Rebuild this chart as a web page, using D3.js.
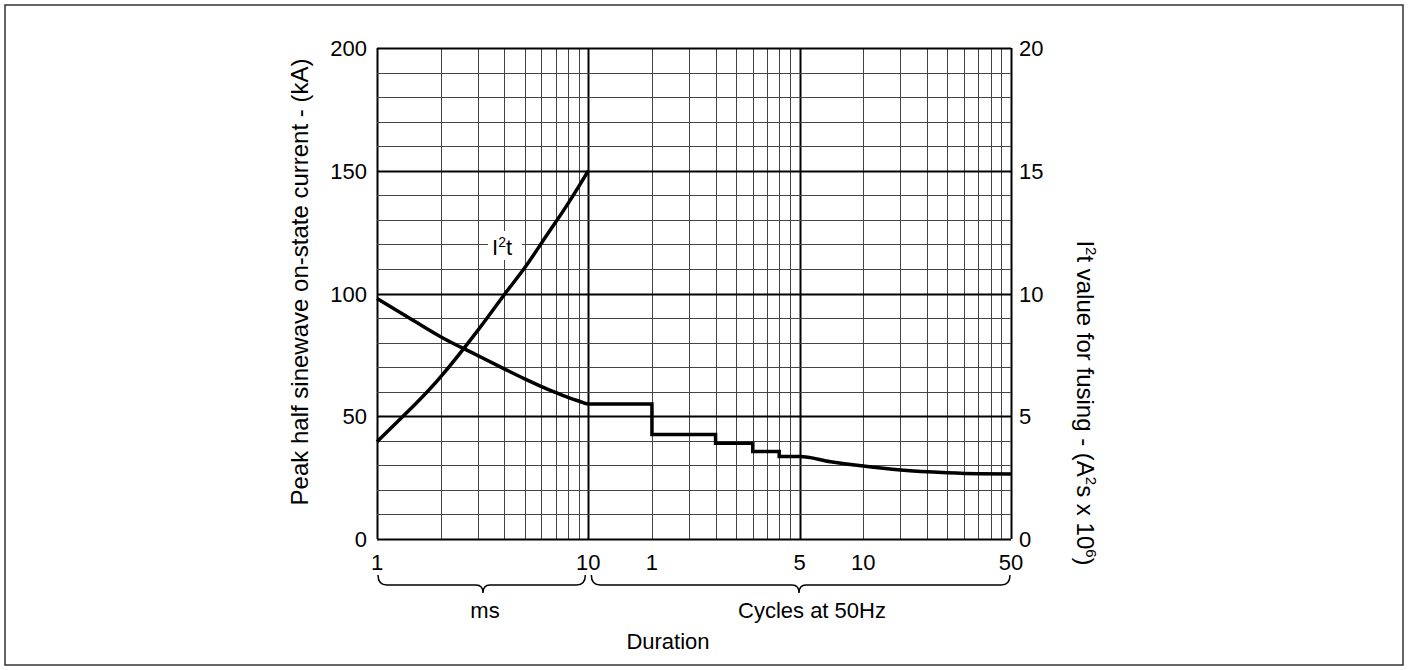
<html>
<meta charset="utf-8">
<body style="margin:0;background:#fff">
<script src="https://d3js.org/d3.v7.min.js"></script>
<div id="my_dataviz"></div>
<script>

// duration in ms (50Hz: 1 cycle = 20 ms)
var currentMs   = [1, 1.5, 2, 3, 4, 5, 6, 7, 8, 9, 10, 20, 20, 40, 40, 60, 60, 80, 80, 100, 140, 200, 300, 500, 700, 1000]
var currentKA   = [98, 88.8, 82.4, 74.7, 69.3, 65.2, 62.1, 59.7, 57.7, 56.2, 55, 55, 42.6, 42.6, 39, 39, 35.6, 35.6, 33.6, 33.6, 31.5, 29.7, 28.1, 27, 26.6, 26.5]
var i2tMs       = [1, 1.5, 2, 3, 4, 5, 6, 7, 8, 9, 10]
var i2tValue    = [3.96, 5.45, 6.6, 8.5, 9.95, 11.05, 12.05, 12.9, 13.65, 14.35, 15.0]
var msTicks     = [1, 10]
var cycleTicks  = [1, 5, 10, 50]
var leftTicks   = [0, 50, 100, 150, 200]
var rightTicks  = [0, 5, 10, 15, 20]

var W = 1408, H = 670
var svg = d3.select("#my_dataviz").append("svg")
    .attr("width", W).attr("height", H)
    .style("font-family", "'Liberation Sans', Arial, sans-serif")

// outer frame
svg.append("rect")
  .attr("x", 5).attr("y", 5).attr("width", W - 10).attr("height", H - 10)
  .attr("fill", "none").attr("stroke", "#333").attr("stroke-width", 1.5)

var x = d3.scaleLog().domain([1, 1000]).range([377, 1011])
var y = d3.scaleLinear().domain([0, 200]).range([539, 48])
var y2 = d3.scaleLinear().domain([0, 20]).range([539, 48])

// grid lines
var vLines = []
for (var d = 1; d <= 100; d *= 10)
  for (var k = 1; k <= 10; k++) vLines.push(d * k)
vLines = Array.from(new Set(vLines))
var hLines = d3.range(0, 201, 10)

function major(d) { return d == 1 || d == 10 || d == 100 || d == 1000 }

var grid = svg.append("g")
grid.selectAll(".vg").data(vLines).enter().append("line")
  .attr("x1", function(d){ return Math.round(x(d)) + 0.5 })
  .attr("x2", function(d){ return Math.round(x(d)) + 0.5 })
  .attr("y1", y(0)).attr("y2", y(200))
  .attr("stroke", function(d){ return major(d) ? "#000" : "#444" })
  .attr("stroke-width", function(d){ return major(d) ? 2 : 1 })

grid.selectAll(".hg").data(hLines).enter().append("line")
  .attr("x1", x(1)).attr("x2", x(1000))
  .attr("y1", function(d){ return Math.round(y(d)) + 0.5 })
  .attr("y2", function(d){ return Math.round(y(d)) + 0.5 })
  .attr("stroke", function(d){ return d % 50 == 0 ? "#000" : "#444" })
  .attr("stroke-width", function(d){ return d % 50 == 0 ? 2 : 1 })

// I2t label with white box
svg.append("rect").attr("x", 488).attr("y", 231).attr("width", 34).attr("height", 29).attr("fill", "#fff")
var lab = svg.append("text").attr("x", 492).attr("y", 255).attr("font-size", 22)
lab.append("tspan").text("I")
lab.append("tspan").attr("font-size", 14).attr("dy", -8).text("2")
lab.append("tspan").attr("dy", 8).text("t")

// curves
var current = currentMs.map(function(d, i){ return [d, currentKA[i]] })
var i2t = i2tMs.map(function(d, i){ return [d, i2tValue[i]] })

svg.append("path").datum(current)
  .attr("d", d3.line().x(function(d){ return x(d[0]) }).y(function(d){ return y(d[1]) }).curve(d3.curveMonotoneX))
  .attr("fill", "none").attr("stroke", "#000").attr("stroke-width", 3.5).attr("stroke-linejoin", "miter")

svg.append("path").datum(i2t)
  .attr("d", d3.line().x(function(d){ return x(d[0]) }).y(function(d){ return y2(d[1]) }).curve(d3.curveNatural))
  .attr("fill", "none").attr("stroke", "#000").attr("stroke-width", 3.5)

// y tick labels
svg.selectAll(".lt").data(leftTicks).enter().append("text")
  .attr("x", 367).attr("y", function(d){ return y(d) + 8 })
  .attr("text-anchor", "end").attr("font-size", 22).text(function(d){ return d })
svg.selectAll(".rt").data(rightTicks).enter().append("text")
  .attr("x", 1019).attr("y", function(d){ return y2(d) + 8 })
  .attr("text-anchor", "start").attr("font-size", 22).text(function(d){ return d })

// x tick labels
var xTicks = msTicks.map(function(d){ return {v: d, label: d} })
  .concat(cycleTicks.map(function(d){ return {v: d * 20, label: d} }))
svg.selectAll(".xt").data(xTicks).enter().append("text")
  .attr("x", function(d){ return x(d.v) }).attr("y", 570)
  .attr("text-anchor", "middle").attr("font-size", 22).text(function(d){ return d.label })

// braces
function brace(x0, x1, tip) {
  var t = 575, m = 585, b = 593
  return "M" + x0 + "," + t + " Q" + x0 + "," + m + " " + (x0 + 9) + "," + m +
    " L" + (tip - 7) + "," + m + " Q" + tip + "," + m + " " + tip + "," + b +
    " Q" + tip + "," + m + " " + (tip + 7) + "," + m +
    " L" + (x1 - 9) + "," + m + " Q" + x1 + "," + m + " " + x1 + "," + t
}
svg.append("path").attr("d", brace(x(1) + 1, x(10) - 3, 483))
  .attr("fill", "none").attr("stroke", "#000").attr("stroke-width", 1.5)
svg.append("path").attr("d", brace(x(10) + 3, x(1000) - 1, 799))
  .attr("fill", "none").attr("stroke", "#000").attr("stroke-width", 1.5)

svg.append("text").attr("x", 485).attr("y", 618).attr("text-anchor", "middle").attr("font-size", 22).text("ms")
svg.append("text").attr("x", 812).attr("y", 618).attr("text-anchor", "middle").attr("font-size", 22).text("Cycles at 50Hz")
svg.append("text").attr("x", 668).attr("y", 649).attr("text-anchor", "middle").attr("font-size", 22).text("Duration")

// axis titles
svg.append("text")
  .attr("transform", "translate(308,282) rotate(-90)")
  .attr("text-anchor", "middle").attr("font-size", 24)
  .text("Peak half sinewave on-state current - (kA)")

var rt = svg.append("text")
  .attr("transform", "translate(1077,403) rotate(90)")
  .attr("text-anchor", "middle").attr("font-size", 24)
rt.append("tspan").text("I")
rt.append("tspan").attr("font-size", 15).attr("dy", -9).text("2")
rt.append("tspan").attr("dy", 9).text("t value for fusing - (A")
rt.append("tspan").attr("font-size", 15).attr("dy", -9).text("2")
rt.append("tspan").attr("dy", 9).text("s x 10")
rt.append("tspan").attr("font-size", 15).attr("dy", -9).text("6")
rt.append("tspan").attr("dy", 9).text(")")

</script>
</body>
</html>
